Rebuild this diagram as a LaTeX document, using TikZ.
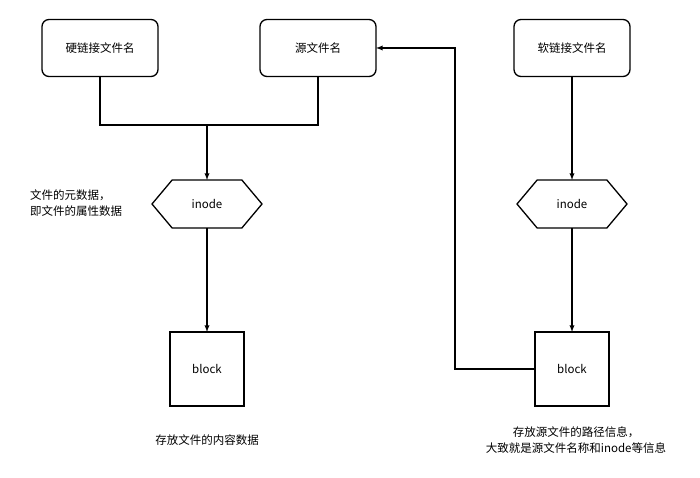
\documentclass[tikz,border=0pt]{standalone}
\usepackage{fontspec}
\setmainfont{Noto Sans CJK SC}
\usetikzlibrary{positioning,shapes.symbols}
\begin{document}
\begin{tikzpicture}[x=1pt,y=-1pt,outer sep=0pt,inner sep=2pt]

	\tikzstyle{every node}=[font=\fontsize{11.5}{16}\selectfont]

	\tikzset{namebox/.style={draw,rounded corners=7pt,line width=1.3pt,
		minimum width=116pt,minimum height=57pt}}

	\tikzset{inodebox/.style={draw,shape=signal,signal to=west and east,
		signal pointer angle=100,line width=1.3pt,
		minimum width=110pt,minimum height=48pt}}

	\tikzset{blockbox/.style={draw,line width=1.3pt,
		minimum width=74pt,minimum height=74pt}}

	\tikzset{link/.style={line width=1.3pt,-latex}}

	\useasboundingbox (0,0) rectangle (700,478);

	% File name boxes.
	\node (hard) at (100,48) [namebox] {硬链接文件名};
	\node (src) at (318,48) [namebox] {源文件名};
	\node (soft) at (572,48) [namebox] {软链接文件名};

	% Inodes and blocks.
	\node (inodel) at (207,204) [inodebox] {inode};
	\node (inoder) at (572,204) [inodebox] {inode};
	\node (blockl) at (207,369) [blockbox] {block};
	\node (blockr) at (572,369) [blockbox] {block};

	% Notes.
	\node (meta) at (28,203) [anchor=west,align=left] {文件的元数据，\\即文件的属性数据};
	\node (content) at (207,440) {存放文件的内容数据};
	\node (path) at (576,440) [align=center] {存放源文件的路径信息，\\大致就是源文件名称和inode等信息};

	% Hard link and source share one inode.
	\coordinate (join) at (207,125);
	\draw [line width=1.3pt] (hard.south) |- (join) -| (src.south);
	\draw [link] (join) -- (inodel.north);
	\draw [link] (inodel.south) -- (blockl.north);

	% Soft link points back to the source name.
	\draw [link] (soft.south) -- (inoder.north);
	\draw [link] (inoder.south) -- (blockr.north);
	\draw [link] (blockr.west) -- (455,369) |- (src.east);
\end{tikzpicture}
\end{document}
